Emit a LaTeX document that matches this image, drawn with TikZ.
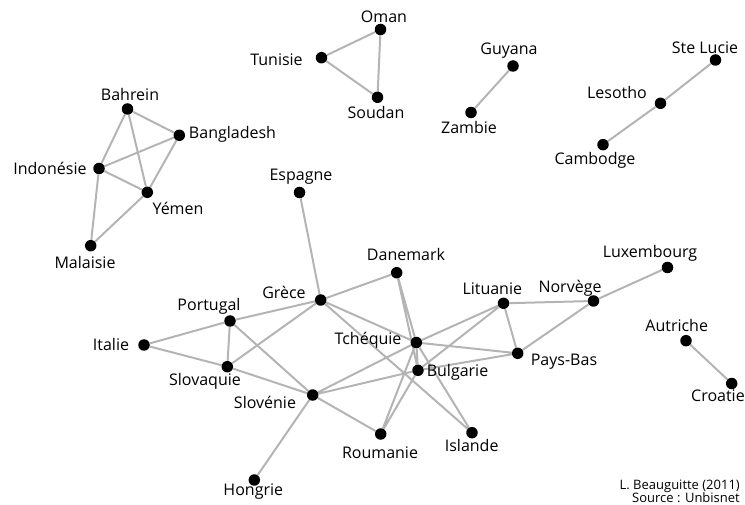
\documentclass[tikz,border=0pt]{standalone}
\usepackage{fontspec}
\setmainfont{Open Sans}
\usetikzlibrary{backgrounds}
\definecolor{edgecol}{RGB}{180,180,180}
\tikzset{
  dot/.style={circle,fill=black,minimum size=11.5pt,inner sep=0pt},
  lab/.style={inner sep=0pt,font=\fontsize{16}{18}\selectfont},
  edge/.style={draw=edgecol,line width=2pt},
  credit/.style={inner sep=0pt,font=\fontsize{13}{13}\selectfont,anchor=east}
}
\begin{document}
\begin{tikzpicture}[x=1pt,y=-1pt]
\useasboundingbox (0,0) rectangle (745,505);
% dots
\node[dot] (oman) at (380.5,29.5) {};
\node[dot] (tunisie) at (321.5,57.7) {};
\node[dot] (soudan) at (377.5,97.3) {};
\node[dot] (guyana) at (513,66) {};
\node[dot] (zambie) at (471,112.5) {};
\node[dot] (stelucie) at (715.5,60) {};
\node[dot] (lesotho) at (660.5,103.3) {};
\node[dot] (cambodge) at (603,144.7) {};
\node[dot] (bahrein) at (127.5,109) {};
\node[dot] (bangladesh) at (179.3,135.3) {};
\node[dot] (indonesie) at (99,168.5) {};
\node[dot] (yemen) at (147.3,192.3) {};
\node[dot] (malaisie) at (90.7,245.7) {};
\node[dot] (espagne) at (299.5,192.5) {};
\node[dot] (danemark) at (396.7,272.7) {};
\node[dot] (grece) at (320.7,300) {};
\node[dot] (portugal) at (230,321) {};
\node[dot] (italie) at (144,345) {};
\node[dot] (slovaquie) at (227.3,366.7) {};
\node[dot] (slovenie) at (312.7,395) {};
\node[dot] (tchequie) at (416.3,342.5) {};
\node[dot] (bulgarie) at (418,370.3) {};
\node[dot] (lituanie) at (503.5,303.3) {};
\node[dot] (norvege) at (593.5,301) {};
\node[dot] (luxembourg) at (667.5,267.5) {};
\node[dot] (paysbas) at (517.7,353.3) {};
\node[dot] (roumanie) at (380.7,434) {};
\node[dot] (islande) at (472,432.7) {};
\node[dot] (hongrie) at (254.3,480) {};
\node[dot] (autriche) at (686,340.7) {};
\node[dot] (croatie) at (731.7,383.5) {};
% labels
\node[lab] (lOman) at (384,17) {Oman};
\node[lab] (lTunisie) at (276.5,60) {Tunisie};
\node[lab] (lSoudan) at (376,113) {Soudan};
\node[lab] (lGuyana) at (509,51) {Guyana};
\node[lab] (lZambie) at (469,128) {Zambie};
\node[lab] (lSteLucie) at (705,47.5) {Ste Lucie};
\node[lab] (lLesotho) at (617,93) {Lesotho};
\node[lab] (lCambodge) at (595,160) {Cambodge};
\node[lab] (lBahrein) at (130,95) {Bahrein};
\node[lab] (lBangladesh) at (232.5,134) {Bangladesh};
\node[lab] (lIndonesie) at (50,168) {Indonésie};
\node[lab] (lYemen) at (178,208) {Yémen};
\node[lab] (lMalaisie) at (85,263) {Malaisie};
\node[lab] (lEspagne) at (301,177) {Espagne};
\node[lab] (lDanemark) at (406,255) {Danemark};
\node[lab] (lGrece) at (284,292.5) {Grèce};
\node[lab] (lPortugal) at (209,306.5) {Portugal};
\node[lab] (lItalie) at (111,344) {Italie};
\node[lab] (lSlovaquie) at (205,381.5) {Slovaquie};
\node[lab] (lSlovenie) at (265,402.5) {Slovénie};
\node[lab] (lTchequie) at (368,340.5) {Tchéquie};
\node[lab] (lBulgarie) at (457.5,372.5) {Bulgarie};
\node[lab] (lLituanie) at (492.3,288.3) {Lituanie};
\node[lab] (lNorvege) at (570,288.3) {Norvège};
\node[lab] (lLuxembourg) at (650,253) {Luxembourg};
\node[lab] (lPaysBas) at (564,362) {Pays-Bas};
\node[lab] (lRoumanie) at (380,452.3) {Roumanie};
\node[lab] (lIslande) at (471.7,445) {Islande};
\node[lab] (lHongrie) at (253.3,492) {Hongrie};
\node[lab] (lAutriche) at (676.7,326) {Autriche};
\node[lab] (lCroatie) at (718,396) {Croatie};
\node[credit] (cr1) at (740,486) {L. Beauguitte (2011)};
\node[credit] (cr2) at (740,497.5) {Source : Unbisnet};
% edges
\begin{pgfonlayer}{background}
\path[edge] (oman) -- (tunisie) (oman) -- (soudan) (tunisie) -- (soudan)
  (guyana) -- (zambie)
  (stelucie) -- (lesotho) (lesotho) -- (cambodge)
  (bahrein) -- (bangladesh) (bahrein) -- (indonesie) (bahrein) -- (yemen)
  (indonesie) -- (bangladesh) (indonesie) -- (yemen) (bangladesh) -- (yemen)
  (indonesie) -- (malaisie) (malaisie) -- (yemen)
  (espagne) -- (grece)
  (grece) -- (danemark) (grece) -- (portugal) (grece) -- (slovaquie)
  (grece) -- (tchequie) (grece) -- (islande)
  (portugal) -- (italie) (portugal) -- (slovaquie) (portugal) -- (slovenie)
  (italie) -- (slovaquie) (slovaquie) -- (slovenie)
  (slovenie) -- (hongrie) (slovenie) -- (roumanie)
  (slovenie) -- (tchequie) (slovenie) -- (bulgarie)
  (danemark) -- (tchequie) (danemark) -- (bulgarie)
  (tchequie) -- (bulgarie) (tchequie) -- (lituanie) (tchequie) -- (paysbas)
  (tchequie) -- (roumanie) (tchequie) -- (islande)
  (bulgarie) -- (lituanie) (bulgarie) -- (paysbas) (bulgarie) -- (roumanie)
  (lituanie) -- (norvege) (lituanie) -- (paysbas) (paysbas) -- (norvege)
  (norvege) -- (luxembourg)
  (autriche) -- (croatie);
\end{pgfonlayer}
\end{tikzpicture}
\end{document}
